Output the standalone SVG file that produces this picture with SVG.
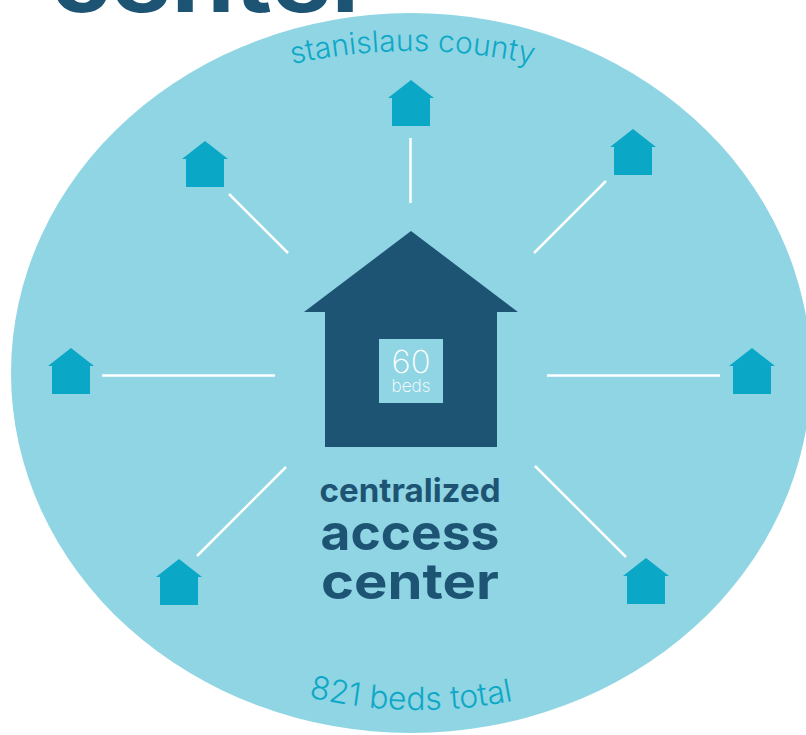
<svg xmlns="http://www.w3.org/2000/svg" xmlns:xlink="http://www.w3.org/1999/xlink" width="806" height="735" viewBox="0 0 806 735">
<style>
.dark{fill:#1d5474}
.lab{font-family:Inter,"Noto Sans",sans-serif;font-weight:700;fill:#1d5474;text-anchor:middle}
.cur{font-family:Inter,"Noto Sans",sans-serif;font-weight:300;fill:#0ea8c7;text-anchor:middle}
.con line{stroke:#fff;stroke-width:2.5}
.w{font-family:Inter,"Noto Sans",sans-serif;fill:#fff;text-anchor:middle;font-weight:200}
</style>
<defs>
<path id="h" d="M0 0L23 18H19V46H-19V18H-23Z" fill="#0ba7c6"/>
<path id="top" d="M285 66Q411 36 540 66"/>
<path id="bot" d="M300 695Q410 723 522 699"/>
</defs>
<rect width="806" height="735" fill="#fff"/>
<text x="212" y="12" class="lab" font-size="88" textLength="322" lengthAdjust="spacingAndGlyphs">center</text>
<ellipse id="region" cx="411" cy="373" rx="400" ry="360" fill="#90d5e3"/>
<g id="connectors" class="con">
<line x1="410.500" y1="138" x2="410.500" y2="203"/>
<line x1="229" y1="194" x2="288" y2="253"/>
<line x1="606" y1="181" x2="534" y2="253"/>
<line x1="102" y1="375.500" x2="275" y2="375.500"/>
<line x1="547" y1="375.500" x2="720" y2="375.500"/>
<line x1="286" y1="467" x2="197" y2="556"/>
<line x1="535" y1="466" x2="626" y2="557"/>
</g>
<g id="house-n"><use xlink:href="#h" href="#h" x="411" y="80"/></g>
<g id="house-nw"><use xlink:href="#h" href="#h" x="205" y="141"/></g>
<g id="house-ne"><use xlink:href="#h" href="#h" x="633" y="129"/></g>
<g id="house-w"><use xlink:href="#h" href="#h" x="71" y="348"/></g>
<g id="house-e"><use xlink:href="#h" href="#h" x="752" y="348"/></g>
<g id="house-sw"><use xlink:href="#h" href="#h" x="179" y="559"/></g>
<g id="house-se"><use xlink:href="#h" href="#h" x="646" y="558"/></g>
<g id="center-house">
<path class="dark" d="M411 231L518 312H497V447H325V312H304Z"/>
<rect x="379" y="339" width="64" height="64" fill="#90d5e3"/>
<text x="411" y="373" class="w" font-size="32" textLength="39" lengthAdjust="spacingAndGlyphs">60</text>
<text x="411" y="392" class="w" font-size="17" textLength="39" lengthAdjust="spacingAndGlyphs">beds</text>
</g>
<g id="center-label">
<text x="410" y="502" class="lab" font-size="33" textLength="181" lengthAdjust="spacingAndGlyphs">centralized</text>
<text x="410" y="550" class="lab" font-size="50" textLength="179" lengthAdjust="spacingAndGlyphs">access</text>
<text x="410" y="599" class="lab" font-size="50" textLength="178" lengthAdjust="spacingAndGlyphs">center</text>
</g>
<text class="cur" style="font-size:30px"><textPath href="#top" xlink:href="#top" startOffset="50%">stanislaus county</textPath></text>
<text class="cur" style="font-size:32px"><textPath href="#bot" xlink:href="#bot" startOffset="50%">821 beds total</textPath></text>
</svg>
